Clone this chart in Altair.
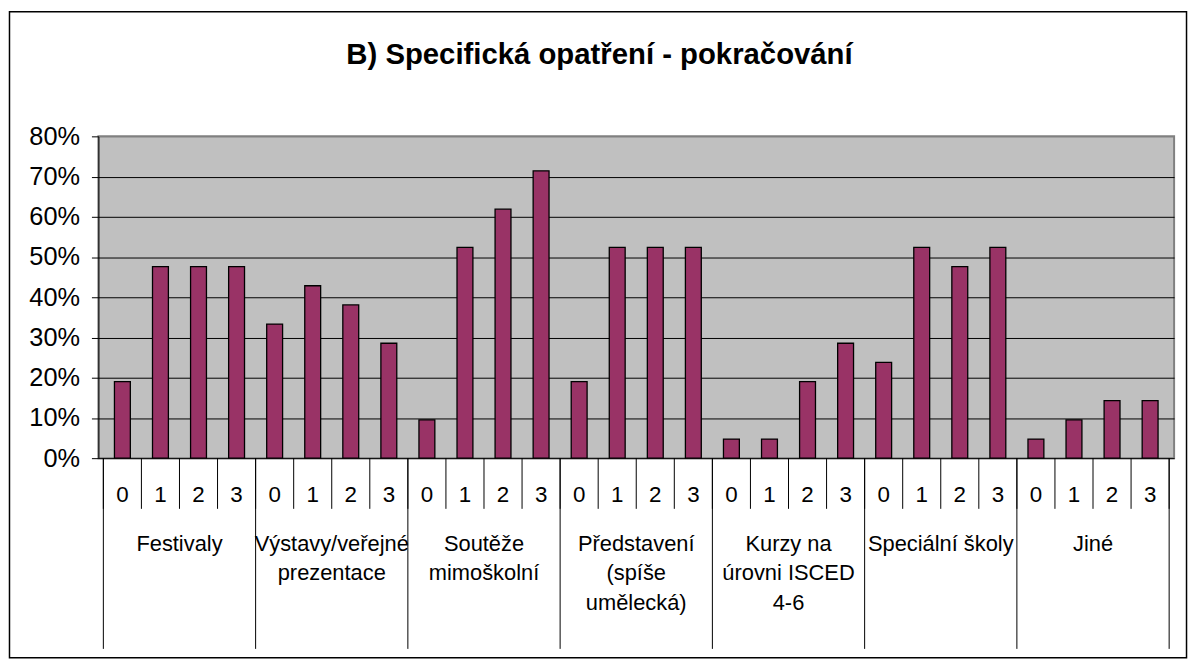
import altair as alt
import pandas as pd

# ---- data ----
groups = [
    "Festivaly",
    "Výstavy/veřejné\nprezentace",
    "Soutěže\nmimoškolní",
    "Představení\n(spíše\numělecká)",
    "Kurzy na\núrovni ISCED\n4-6",
    "Speciální školy",
    "Jiné",
]
levels = ["0", "1", "2", "3"]
festivaly = [19.05, 47.62, 47.62, 47.62]
vystavy = [33.33, 42.86, 38.10, 28.57]
souteze = [9.52, 52.38, 61.90, 71.43]
predstaveni = [19.05, 52.38, 52.38, 52.38]
kurzy = [4.76, 4.76, 19.05, 28.57]
specialni = [23.81, 52.38, 47.62, 52.38]
jine = [4.76, 9.52, 14.29, 14.29]
series = [festivaly, vystavy, souteze, predstaveni, kurzy, specialni, jine]
y_ticks = [0, 0.1, 0.2, 0.3, 0.4, 0.5, 0.6, 0.7, 0.8]
title_text = "B) Specifická opatření - pokračování"

# ---- tables built from the arrays ----
rows = []
k = len(levels)
for g, (name, vals) in enumerate(zip(groups, series)):
    for j, (lv, v) in enumerate(zip(levels, vals)):
        rows.append({"group": name, "level": lv, "idx": g * k + j, "value": v / 100.0})
df = pd.DataFrame(rows)
n = len(df)
bounds = pd.DataFrame({"b": list(range(n + 1))})
gbounds = pd.DataFrame({"b": list(range(0, n + 1, k))})
glabels = pd.DataFrame({"label": groups, "gidx": list(range(len(groups)))})
one = pd.DataFrame({"t": [title_text]})

W, H = 1083, 324
FONT = "Liberation Sans"
xscale = alt.Scale(domain=[0, n], nice=False, zero=False)
yscale = alt.Scale(domain=[0, 0.8], nice=False, zero=True)

border = alt.Chart(one).mark_rect(
    fill="white", fillOpacity=0, stroke="black", strokeWidth=1.5
).encode(
    x=alt.value(-89.5), x2=alt.value(W + 12.5), y=alt.value(-125.5), y2=alt.value(H + 201)
)

bars = alt.Chart(df).mark_bar(
    width=16, color="#993366", stroke="black", strokeWidth=1.3, orient="vertical"
).transform_calculate(
    pos="datum.idx + 0.5"
).encode(
    x=alt.X("pos:Q", scale=xscale,
            axis=alt.Axis(labels=False, ticks=False, grid=False, domain=True,
                          domainColor="black", domainWidth=1, title=None)),
    y=alt.Y("value:Q", scale=yscale,
            axis=alt.Axis(values=y_ticks, format=".0%", title=None,
                          labelFont=FONT, labelFontSize=25.5, labelColor="black",
                          labelPadding=12, tickSize=7, tickColor="black",
                          domainColor="black", domainWidth=1,
                          gridColor=alt.condition("datum.value >= 0.8",
                                                  alt.value("#808080"), alt.value("black")),
                          gridWidth=1)),
)

digits = alt.Chart(df).mark_text(
    font=FONT, fontSize=22.5, color="black", baseline="alphabetic", align="center"
).transform_calculate(
    pos="datum.idx + 0.5"
).encode(
    x=alt.X("pos:Q", scale=xscale, axis=None),
    y=alt.value(H + 44),
    text="level:N",
)

ticks_small = alt.Chart(bounds).mark_rule(color="black", strokeWidth=1).encode(
    x=alt.X("b:Q", scale=xscale, axis=None),
    y=alt.value(H),
    y2=alt.value(H + 51),
)

ticks_group = alt.Chart(gbounds).mark_rule(color="black", strokeWidth=1).encode(
    x=alt.X("b:Q", scale=xscale, axis=None),
    y=alt.value(H),
    y2=alt.value(H + 192),
)

group_text = alt.Chart(glabels).mark_text(
    font=FONT, fontSize=22, color="black", baseline="alphabetic", align="center",
    lineBreak="\n", lineHeight=30
).transform_calculate(
    pos=f"datum.gidx * {k} + {k / 2}"
).encode(
    x=alt.X("pos:Q", scale=xscale, axis=None),
    y=alt.value(H + 93),
    text="label:N",
)

title = alt.Chart(one).mark_text(
    font=FONT, fontSize=29.5, fontWeight="bold", color="black",
    baseline="alphabetic", align="center"
).encode(
    x=alt.value(504.5),
    y=alt.value(-73),
    text="t:N",
)

chart = alt.layer(
    border, bars, digits, ticks_small, ticks_group, group_text, title
).properties(
    width=W, height=H,
    autosize=alt.AutoSizeParams(type="none"),
    padding={"left": 91, "top": 127, "right": 16, "bottom": 205},
    background="white",
).configure_view(
    fill="#C0C0C0", stroke="#808080", strokeWidth=2
)

chart.save("out.html", embed_options={"renderer": "svg", "actions": False})
